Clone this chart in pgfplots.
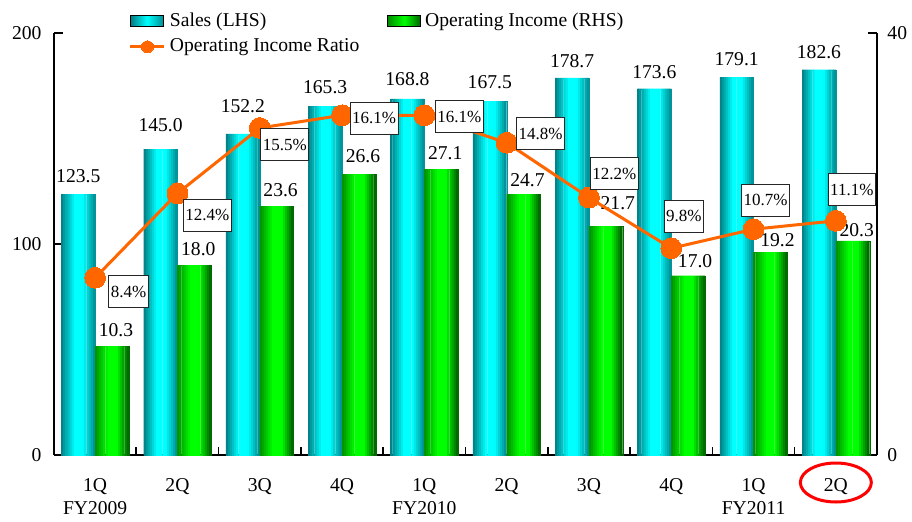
\documentclass[border=0pt]{standalone}
\usepackage{fontspec}
\setmainfont{Liberation Serif}
\usepackage{pgfplots}
\pgfplotsset{compat=1.18}
\usepackage{pgfplotstable}

\definecolor{tealdark}{RGB}{0,122,128}
\definecolor{tealright}{RGB}{0,140,145}
\definecolor{cyanb}{RGB}{0,255,255}
\definecolor{greenl}{RGB}{0,140,0}
\definecolor{greenb}{RGB}{0,255,0}
\definecolor{greend}{RGB}{0,95,0}
\definecolor{orng}{RGB}{255,102,0}

\pgfplotstableread{
x sales oi ratio dx dy sy oy ox
0 123.5 10.3 8.4 16.75 -7 2.5 1.2 2
1 145.0 18.0 12.4 15 -11 5 1.2 2
2 152.2 23.6 15.5 12.5 -8.5 7 1.2 2
3 165.3 26.6 16.1 16 -1.5 2.5 2.5 2
4 168.8 27.1 16.1 17.5 -0.75 3 1.2 2
5 167.5 24.7 14.8 17 4.5 3 0.5 2
6 178.7 21.7 12.2 12.75 12 1.5 4.7 6
7 173.6 17.0 9.8 6.25 16 1.5 0.3 3.5
8 179.1 19.2 10.7 6 14.5 2 -0.5 3.5
9 182.6 20.3 11.1 8 15.5 2 -1.5 2
}\data

\pgfplotsset{
  common/.style={
    scale only axis, width=411.5pt, height=211pt,
    xmin=-0.5, xmax=9.5, ymin=0,
    at={(0,0)}, anchor=south west,
    /pgf/number format/assume math mode=true,
    clip=false,
  },
  ratio legend/.style={
    legend image code/.code={\draw[mark repeat=2, mark phase=2, ##1, mark size=3pt] plot coordinates {(0pt,0pt) (8.5pt,0pt) (17pt,0pt)};}
  },
}

% shaded bars built from 16 vertical strips: #1 column, #2 sign of shift, #3 left, #4 middle, #5 right
\newcommand\stripbars[5]{%
  \pgfplotsinvokeforeach{0,...,15}{%
    \pgfmathsetmacro\tt{(##1+0.5)/16}%
    \pgfmathtruncatemacro\pp{\tt<0.4 ? 100*\tt/0.4 : (\tt<0.65 ? 100 : 100*(1-\tt)/0.35)}%
    \pgfmathsetmacro\bs{#2*0.41/2-0.205+(##1+0.5)*0.025625}%
    \ifdim\tt pt<0.5pt \colorlet{strip#1##1}{#4!\pp!#3}\else\colorlet{strip#1##1}{#4!\pp!#5}\fi
    \edef\doplot{\noexpand\addplot[ybar, bar width=0.0262, bar shift=\bs, fill=strip#1##1, draw=strip#1##1, line width=0.1pt, forget plot] table[x=x, y=#1]{\noexpand\data};}%
    \doplot
  }%
}

\begin{document}
\begin{tikzpicture}[font=\fontsize{9.8}{11.5}\selectfont]
% ---------- Sales (left axis) ----------
\begin{axis}[common, ymax=200,
  axis x line*=bottom, axis y line*=left,
  axis line style={line width=1pt},
  ytick={0,100,200},
  xtick={0,...,9},
  xticklabels={{1Q\\FY2009},{2Q},{3Q},{4Q},{1Q\\FY2010},{2Q},{3Q},{4Q},{1Q\\FY2011},{2Q}},
  xticklabel style={align=center, yshift=-8pt},
  yticklabel style={xshift=-2.7pt},
  major x tick style={draw=none},
  minor xtick={0.5,1.5,...,8.5},
  tick align=inside,
  major tick length=4.5pt, minor tick length=4pt,
  tick style={black, line width=0.8pt},
]
\stripbars{sales}{-1}{tealdark}{cyanb}{tealright}
\addplot[draw=none, mark=none,
  visualization depends on={\thisrow{sy} \as \sy},
  nodes near coords={\pgfmathprintnumber[fixed,fixed zerofill,precision=1]{\pgfplotspointmeta}},
  every node near coord/.style={anchor=south, yshift=\sy pt, text=black}]
  table[x expr=\thisrow{x}-0.205, y=sales]{\data};
\draw[red, line width=1.5pt] (axis cs:9,0) ++(0pt,-13.75pt) ellipse [x radius=17.75pt, y radius=9.75pt];
\end{axis}

% ---------- Operating income (right axis) ----------
\begin{axis}[common, ymax=40,
  axis x line=none, axis y line*=right,
  axis line style={line width=1pt},
  ytick={0,40},
  yticklabel style={xshift=1.7pt},
  tick align=inside, major tick length=4.5pt,
  tick style={black, line width=0.8pt},
]
\stripbars{oi}{1}{greenl}{greenb}{greend}
\addplot[draw=none, mark=none,
  visualization depends on={\thisrow{oy} \as \oy},
  visualization depends on={\thisrow{ox} \as \ox},
  nodes near coords={\pgfmathprintnumber[fixed,fixed zerofill,precision=1]{\pgfplotspointmeta}},
  every node near coord/.style={anchor=south, yshift=\oy pt, xshift=\ox pt, text=black}]
  table[x expr=\thisrow{x}+0.205, y=oi]{\data};
\end{axis}

% ---------- Ratio (hidden 0-20 axis) ----------
\begin{axis}[common, ymax=20, hide axis,
  legend columns=2,
  legend style={draw=none, fill=none, inner sep=0pt, outer sep=0pt,
    at={(axis description cs:0.0911,1)}, yshift=12pt, anchor=north west,
    nodes={inner sep=2pt}, row sep=0.6pt,
    /tikz/column 2/.style={column sep=12pt},
    legend cell align=left},
]
\addlegendimage{legend image code/.code={\path[left color=tealdark, right color=tealright, middle color=cyanb] (0pt,-2.75pt) rectangle (16.5pt,2.75pt);}}
\addlegendentry{Sales (LHS)}
\addlegendimage{legend image code/.code={\path[left color=greenl, right color=greend, middle color=greenb] (0pt,-2.75pt) rectangle (16.5pt,2.75pt);}}
\addlegendentry{Operating Income (RHS)}
\addplot[orng, line width=1.5pt, mark=*, mark size=5.2pt,
  mark options={fill=orng, draw=orng, line width=0pt},
  ratio legend,
  point meta=explicit,
  visualization depends on={\thisrow{dx} \as \dx},
  visualization depends on={\thisrow{dy} \as \dy},
  nodes near coords={\pgfmathprintnumber[fixed,fixed zerofill,precision=1]{\pgfplotspointmeta}\%},
  every node near coord/.style={anchor=center, xshift=\dx pt, yshift=\dy pt,
    draw=black!85, fill=white, line width=0.5pt, text=black,
    font=\fontsize{8.5}{10}\selectfont, inner xsep=1pt, minimum height=16pt}]
  table[x=x, y=ratio, meta=ratio]{\data};
\addlegendentry{Operating Income Ratio}
\end{axis}
\pgfresetboundingbox
\path (-27pt,-33pt) rectangle (429pt,227.5pt);
\end{tikzpicture}
\end{document}
